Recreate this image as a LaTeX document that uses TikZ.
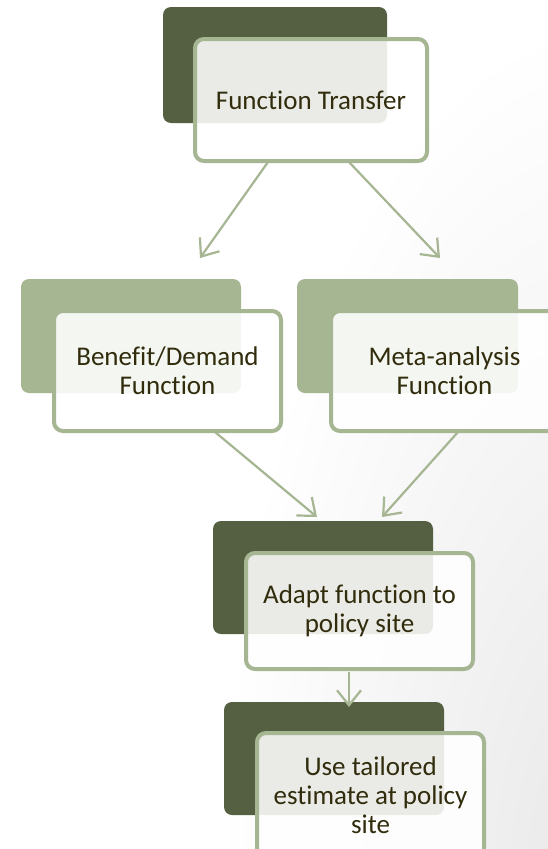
\documentclass[tikz,border=0pt]{standalone}
\usepackage{fontspec}
\setmainfont[Ligatures=NoCommon]{Carlito}
\usetikzlibrary{arrows.meta}
\definecolor{darkgreen}{RGB}{84,96,65}
\definecolor{lightgreen}{RGB}{166,181,146}
\definecolor{txtcol}{RGB}{48,44,12}
\tikzset{
  backdark/.style={rectangle, rounded corners=8pt, fill=darkgreen, draw=none, inner sep=0pt},
  backlight/.style={rectangle, rounded corners=8pt, fill=lightgreen, draw=none, inner sep=0pt},
  frontbox/.style={rectangle, rounded corners=9pt, fill=white, fill opacity=0.88, text opacity=1,
    draw=lightgreen, draw opacity=1, line width=4pt, inner sep=0pt, align=center,
    text=txtcol, font=\fontsize{27}{29}\selectfont},
  flowarrow/.style={draw=lightgreen, line width=2.2pt,
    -{Straight Barb[length=15pt,width=24pt,line width=2.2pt]}},
}
\begin{document}
\begin{tikzpicture}[x=1pt,y=-1pt]
\useasboundingbox (0,0) rectangle (548,849);
\clip (0,0) rectangle (548,849);
\fill[white] (0,0) rectangle (548,849);
\shade[inner color=black!9, outer color=white] (600,880) ellipse [x radius=380, y radius=860];
% box 1
\node[backdark, minimum width=224pt, minimum height=116pt] (b1) at (275,65) {};
\node[frontbox, minimum width=232pt, minimum height=122pt] (f1) at (311,100) {Function Transfer};
% box 2 left
\node[backlight, minimum width=220pt, minimum height=114pt] (b2) at (131,336) {};
\node[frontbox, minimum width=227pt, minimum height=120pt] (f2) at (167.5,371) {Benefit/Demand\\Function};
% box 2 right
\node[backlight, minimum width=221pt, minimum height=114pt] (b3) at (407.5,336) {};
\node[frontbox, minimum width=227pt, minimum height=120pt] (f3) at (444.5,371) {Meta-analysis\\Function};
% box 3
\node[backdark, minimum width=220pt, minimum height=113pt] (b4) at (323,577.5) {};
\node[frontbox, minimum width=227pt, minimum height=116pt] (f4) at (359.5,611) {Adapt function to\\policy site};
% box 4
\node[backdark, minimum width=220pt, minimum height=113pt] (b5) at (334,758.5) {};
\node[frontbox, minimum width=227pt, minimum height=124pt] (f5) at (370.5,795) {Use tailored\\estimate at policy\\site};
% connector ends
\coordinate (a1s) at (268,162);
\coordinate (a1e) at (200,258);
\coordinate (a2s) at (349,162);
\coordinate (a2e) at (440,258);
\coordinate (a3s) at (215,432);
\coordinate (a3e) at (317,517);
\coordinate (a4s) at (458,432);
\coordinate (a4e) at (382,517);
\coordinate (a5s) at (349,672);
\coordinate (a5e) at (349,707);
\draw[flowarrow] (a1s) -- (a1e);
\draw[flowarrow] (a2s) -- (a2e);
\draw[flowarrow] (a3s) -- (a3e);
\draw[flowarrow] (a4s) -- (a4e);
\draw[flowarrow] (a5s) -- (a5e);
\end{tikzpicture}
\end{document}
